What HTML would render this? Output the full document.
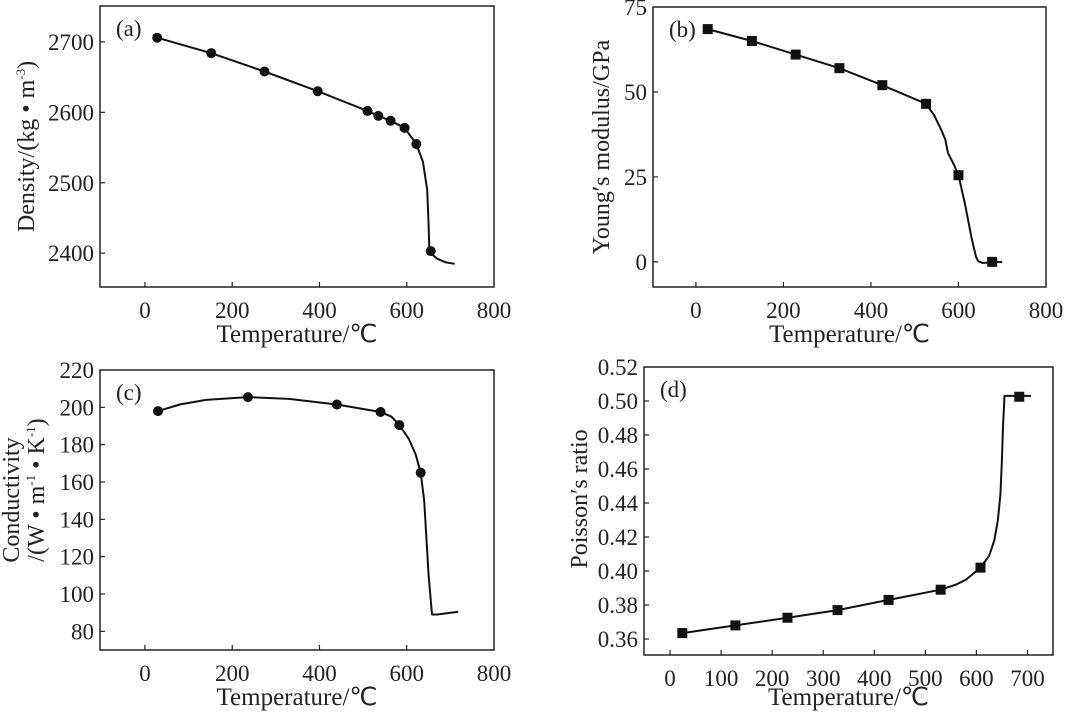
<!DOCTYPE html>
<html><head><meta charset="utf-8"><style>
html,body{margin:0;padding:0;background:#fff;}
svg{display:block;font-family:"Liberation Serif",serif;}
text{fill:#222;}
</style></head><body>
<svg id="fig" width="1086" height="712" viewBox="0 0 1086 712"></svg>
<script>
// Panel (a) density
const aPtsX=[28,152,274,396,510,535,563,595,622,655];
const aPtsY=[2706,2684,2658,2630,2602,2595,2588,2578,2555,2403];
const aLineX=[28,152,274,396,510,535,563,595,622,637,647,650,652,655,670,690,710];
const aLineY=[2706,2684,2658,2630,2602,2595,2588,2578,2555,2530,2490,2440,2403,2400,2392,2387,2385];
const aXTicks=[0,200,400,600,800];
const aYTicks=[2400,2500,2600,2700];
// Panel (b) Young's modulus
const bPtsX=[27,128,228,328,426,526,600,677];
const bPtsY=[68.5,65,61,57,52,46.5,25.5,0];
const bLineX=[27,128,228,328,426,526,545,560,570,576,590,600,615,630,640,645,655,700];
const bLineY=[68.5,65,61,57,52,46.5,43,39,36,32,28.5,25.5,17,7,1.5,0.2,-0.3,0];
const bXTicks=[0,200,400,600,800];
const bYTicks=[0,25,50,75];
// Panel (c) conductivity
const cPtsX=[30,236,440,540,583,632];
const cPtsY=[198,205.5,201.5,197.5,190.5,165];
const cLineX=[30,80,140,236,330,440,540,565,583,605,620,632,640,650,658,670,718];
const cLineY=[198,201.5,204,205.5,204.5,201.5,197.5,195,190.5,183,175,165,150,110,89,89,90.5];
const cXTicks=[0,200,400,600,800];
const cYTicks=[80,100,120,140,160,180,200,220];
// Panel (d) Poisson's ratio
const dPtsX=[24,128,230,328,428,530,608,684];
const dPtsY=[0.3635,0.368,0.3725,0.377,0.383,0.389,0.402,0.5025];
const dLineX=[24,128,230,328,428,530,560,580,600,608,625,635,642,647,650,652,655,658,707];
const dLineY=[0.3635,0.368,0.3725,0.377,0.383,0.389,0.392,0.395,0.4,0.402,0.409,0.418,0.43,0.445,0.465,0.485,0.503,0.503,0.503];
const dXTicks=[0,100,200,300,400,500,600,700];
const dYTicks=[0.36,0.38,0.40,0.42,0.44,0.46,0.48,0.50,0.52];

const NS="http://www.w3.org/2000/svg";
const svg=document.getElementById('fig');
function mk(tag,attrs,parent){const e=document.createElementNS(NS,tag);for(const k in attrs)e.setAttribute(k,attrs[k]);(parent||svg).appendChild(e);return e;}

function panel(cfg){
  const g=mk('g',{});
  
  
  const L=cfg.box[0],T=cfg.box[1],R=cfg.box[2],B=cfg.box[3];
  const sx=v=>L+(v-cfg.xr[0])/(cfg.xr[1]-cfg.xr[0])*(R-L);
  const sy=v=>B-(v-cfg.yr[0])/(cfg.yr[1]-cfg.yr[0])*(B-T);
  const fr=mk('rect',{x:L,y:T,width:R-L,height:B-T,fill:'none',stroke:'#222','stroke-width':1.5},g);
  
  
  cfg.xt.forEach(v=>{
    const x=sx(v);
    if(x>L+1&&x<R-1){const t=mk('line',{x1:x,x2:x,y1:B,y2:B-5,stroke:'#222','stroke-width':1.2},g);
    
    }
    const lb=mk('text',{x:x,y:B+31,'font-size':23,'text-anchor':'middle'},g);lb.textContent=v;
    
    
  });
  cfg.yt.forEach(v=>{
    const y=sy(v);
    if(y>T+1&&y<B-1){const t=mk('line',{x1:L,x2:L+5,y1:y,y2:y,stroke:'#222','stroke-width':1.2},g);
    
    }
    const lb=mk('text',{x:L-6,y:y+8,'font-size':23,'text-anchor':'end'},g);lb.textContent=cfg.yfmt?cfg.yfmt(v):v;
    
    
  });
  const xt=mk('text',{x:(L+R)/2,y:B+(cfg.xtOff||55),'font-size':25,'text-anchor':'middle'},g);xt.textContent='Temperature/℃';
  
  
  cfg.ytitle.forEach((s,i)=>{
    const yt=mk('text',{x:0,y:0,'font-size':24,'text-anchor':'middle',transform:`translate(${cfg.ytx[i]},${(T+B)/2+(cfg.yoff?cfg.yoff[i]:0)}) rotate(-90)`},g);
    yt.innerHTML=s;
    
    
  });
  const pl=mk('text',{x:L+16,y:T+30,'font-size':23},g);pl.textContent=cfg.label;
  
  
  const d=cfg.lx.map((v,i)=>(i?'L':'M')+sx(v).toFixed(1)+','+sy(cfg.ly[i]).toFixed(1)).join(' ');
  const ln=mk('path',{d:d,fill:'none',stroke:'#111','stroke-width':2,'stroke-linejoin':'round'},g);
  
  
  cfg.px.forEach((v,i)=>{
    const x=sx(v),y=sy(cfg.py[i]);let m;
    if(cfg.sq)m=mk('rect',{x:x-5,y:y-5,width:10,height:10,fill:'#111'},g);
    else m=mk('circle',{cx:x,cy:y,r:5,fill:'#111'},g);
    
    
  });
}
panel({name:'panel-a-density',box:[100,6,494,287],xr:[-103,800],yr:[2352,2751],xt:aXTicks,yt:aYTicks,
  ytitle:['Density/(kg • m<tspan font-size="13" dy="-9">-3</tspan><tspan dy="9">)</tspan>'],ytx:[34],label:'(a)',
  px:aPtsX,py:aPtsY,lx:aLineX,ly:aLineY,sq:false});
panel({name:'panel-b-youngs-modulus',box:[653,7,1046,287],xr:[-98,800],yr:[-7.4,75],xt:bXTicks,yt:bYTicks,
  ytitle:["Young′s modulus/GPa"],ytx:[609],label:'(b)',px:bPtsX,py:bPtsY,lx:bLineX,ly:bLineY,sq:true});
panel({name:'panel-c-conductivity',box:[100,370,494,650],xr:[-103,800],yr:[70,220],xt:cXTicks,yt:cYTicks,
  ytitle:['Conductivity','/(W • m<tspan font-size="13" dy="-9">-1</tspan><tspan dy="9"> • K</tspan><tspan font-size="13" dy="-9">-1</tspan><tspan dy="9">)</tspan>'],ytx:[19,44],yoff:[-10,-20],label:'(c)',
  px:cPtsX,py:cPtsY,lx:cLineX,ly:cLineY,sq:false});
panel({name:'panel-d-poissons-ratio',box:[644,367,1053,655],xr:[-51,750],yr:[0.3506,0.52],xt:dXTicks,yt:dYTicks,yfmt:v=>v.toFixed(2),xtOff:50,
  ytitle:["Poisson′s ratio"],ytx:[587],yoff:[-12],label:'(d)',px:dPtsX,py:dPtsY,lx:dLineX,ly:dLineY,sq:true});
</script>
</body></html>
